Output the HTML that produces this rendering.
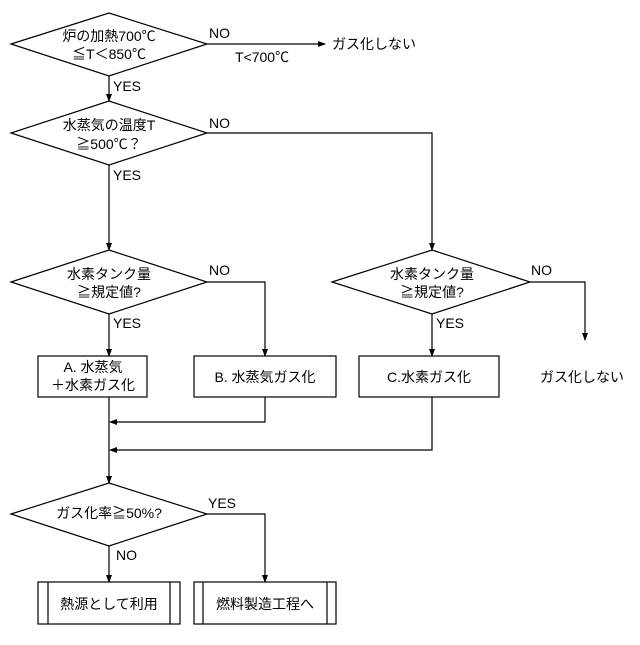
<!DOCTYPE html>
<html><head><meta charset="utf-8"><style>
html,body{margin:0;padding:0;background:#fff;}
svg text{font-family:"Liberation Sans","Noto Sans CJK JP",sans-serif;font-size:14px;fill:#000;}
</style></head><body>
<svg width="640" height="640" viewBox="0 0 640 640" xmlns="http://www.w3.org/2000/svg">
<defs><marker id="a" markerWidth="8" markerHeight="8" refX="7" refY="4" orient="auto" markerUnits="userSpaceOnUse"><path d="M0,1 L8,4 L0,7 Z" fill="#000"/></marker></defs>
<g fill="none" stroke="#000" stroke-width="1.2">
<polygon points="11,44 109,13 207,44 109,76" fill="#fff"/>
<polygon points="11,133 109,101 207,133 109,165" fill="#fff"/>
<polygon points="11,282 109,250 207,282 109,314" fill="#fff"/>
<polygon points="332,282 432,250 530,282 432,314" fill="#fff"/>
<polygon points="11,514 109,483 207,514 109,546" fill="#fff"/>
<rect x="38" y="356" width="109" height="41"/>
<rect x="194" y="356" width="142" height="41"/>
<rect x="359" y="356" width="140" height="41"/>
<rect x="38" y="582" width="142" height="42"/>
<line x1="48" y1="582" x2="48" y2="624"/><line x1="170" y1="582" x2="170" y2="624"/>
<rect x="194" y="582" width="142" height="42"/>
<line x1="203" y1="582" x2="203" y2="624"/><line x1="327" y1="582" x2="327" y2="624"/>
<line x1="207" y1="44" x2="325" y2="44" marker-end="url(#a)"/>
<line x1="109" y1="76" x2="109" y2="101" marker-end="url(#a)"/>
<line x1="109" y1="165" x2="109" y2="250" marker-end="url(#a)"/>
<polyline points="207,133 432,133 432,250" marker-end="url(#a)"/>
<line x1="109" y1="314" x2="109" y2="356" marker-end="url(#a)"/>
<polyline points="207,282 265,282 265,356" marker-end="url(#a)"/>
<line x1="432" y1="314" x2="432" y2="356" marker-end="url(#a)"/>
<polyline points="530,282 585,282 585,340" marker-end="url(#a)"/>
<line x1="109" y1="397" x2="109" y2="483" marker-end="url(#a)"/>
<polyline points="265,397 265,422 110,422" marker-end="url(#a)"/>
<polyline points="432,397 432,450 110,450" marker-end="url(#a)"/>
<polyline points="207,514 265,514 265,582" marker-end="url(#a)"/>
<line x1="109" y1="546" x2="109" y2="582" marker-end="url(#a)"/>
</g>
<g text-anchor="middle">
<text x="109" y="41">炉の加熱700℃</text>
<text x="109" y="59">≦T＜850℃</text>
<text x="109" y="130">水蒸気の温度T</text>
<text x="109" y="149">≧500℃？</text>
<text x="109" y="279">水素タンク量</text>
<text x="109" y="297">≧規定値?</text>
<text x="432" y="279">水素タンク量</text>
<text x="432" y="297">≧規定値?</text>
<text x="109" y="518">ガス化率≧50%?</text>
<text x="93" y="372">A. 水蒸気</text>
<text x="93" y="390">＋水素ガス化</text>
<text x="265" y="382">B. 水蒸気ガス化</text>
<text x="429" y="382">C.水素ガス化</text>
<text x="109" y="609">熱源として利用</text>
<text x="265" y="609">燃料製造工程へ</text>
</g>
<text x="332" y="49">ガス化しない</text>
<text x="540" y="382">ガス化しない</text>
<text x="235" y="62">T&lt;700℃</text>
<text x="209" y="38">NO</text>
<text x="209" y="128">NO</text>
<text x="209" y="275">NO</text>
<text x="531" y="275">NO</text>
<text x="113" y="91">YES</text>
<text x="113" y="180">YES</text>
<text x="113" y="328">YES</text>
<text x="436" y="328">YES</text>
<text x="208" y="508">YES</text>
<text x="116" y="560">NO</text>
</svg>
</body></html>
